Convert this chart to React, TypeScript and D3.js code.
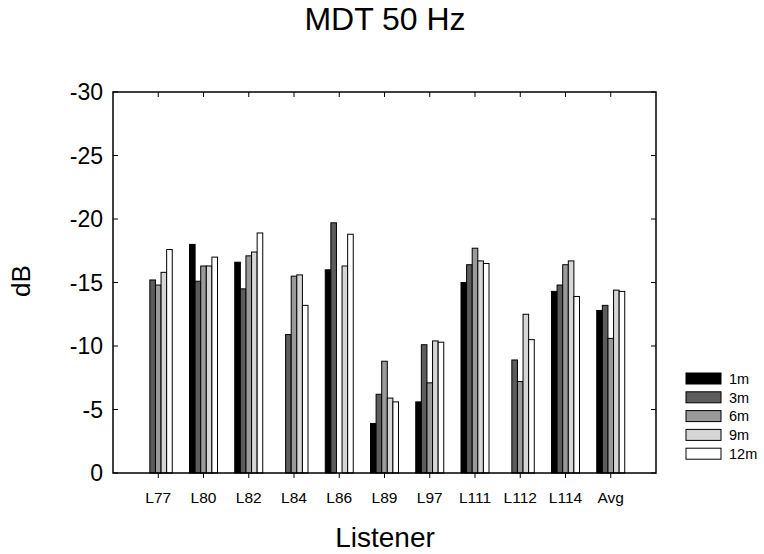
import React from 'react';
import * as d3 from 'd3';

// Data (dB values; null = no bar)
const categories = ['L77', 'L80', 'L82', 'L84', 'L86', 'L89', 'L97', 'L111', 'L112', 'L114', 'Avg'];
const m1 = [null, -18.0, -16.6, null, -16.0, -3.9, -5.6, -15.0, null, -14.3, -12.8];
const m3 = [-15.2, -15.1, -14.5, -10.9, -19.7, -6.2, -10.1, -16.4, -8.9, -14.8, -13.2];
const m6 = [-14.8, -16.3, -17.1, -15.5, null, -8.8, -7.1, -17.7, -7.2, -16.4, -10.6];
const m9 = [-15.8, -16.3, -17.4, -15.6, -16.3, -5.9, -10.4, -16.7, -12.5, -16.7, -14.4];
const m12 = [-17.6, -17.0, -18.9, -13.2, -18.8, -5.6, -10.3, -16.5, -10.5, -13.9, -14.3];
const seriesNames = ['1m', '3m', '6m', '9m', '12m'];
const yTicks = [0, -5, -10, -15, -20, -25, -30];

const seriesValues = [m1, m3, m6, m9, m12];
const colors = ['#000000', '#5c5c5c', '#9a9a9a', '#d6d6d6', '#ffffff'];
const font = 'Liberation Sans, Arial, Helvetica, sans-serif';

export default function App() {
    const width = 764;
    const height = 554;
    const left = 113, right = 656, top = 92, bottom = 473;

    // x: categories sit at 1..11 on a 0..12 axis
    const x = d3.scaleLinear().domain([0, 12]).range([left, right]);
    const y = d3.scaleLinear().domain([0, -30]).range([bottom, top]);
    const inner = d3.scaleBand().domain(seriesNames).range([-14, 14]).padding(0);

    return (
        <svg width={width} height={height} style={{ position: 'absolute', left: 0, top: 0, background: '#fff' }}
            fontFamily={font}>
            <rect x={0} y={0} width={width} height={height} fill='#fff' />

            {/* bars */}
            {seriesValues.map((vals, s) => (
                <g key={seriesNames[s]}>
                    {vals.map((v, i) => v === null ? null : (
                        <rect key={i}
                            x={x(i + 1) + (inner(seriesNames[s]) as number)}
                            y={y(v)}
                            width={inner.bandwidth()}
                            height={y(0) - y(v)}
                            fill={colors[s]}
                            stroke='#000'
                            strokeWidth={1} />
                    ))}
                </g>
            ))}

            {/* frame */}
            <rect x={left} y={top} width={right - left} height={bottom - top} fill='none' stroke='#000' strokeWidth={1.5} />

            {/* y ticks left/right (inward) and labels */}
            {yTicks.map(t => (
                <g key={t}>
                    <line x1={left} x2={left + 5} y1={y(t)} y2={y(t)} stroke='#000' strokeWidth={1} />
                    <line x1={right - 5} x2={right} y1={y(t)} y2={y(t)} stroke='#000' strokeWidth={1} />
                    <text x={left - 10} y={y(t)} dy='0.36em' textAnchor='end' fontSize={23}>{t}</text>
                </g>
            ))}

            {/* x ticks top (inward) and bottom (outward) */}
            {categories.map((c, i) => (
                <g key={c}>
                    <line x1={x(i + 1)} x2={x(i + 1)} y1={top} y2={top + 5} stroke='#000' strokeWidth={1} />
                    <line x1={x(i + 1)} x2={x(i + 1)} y1={bottom} y2={bottom + 5} stroke='#000' strokeWidth={1} />
                    <text x={x(i + 1)} y={503} textAnchor='middle' fontSize={15.5}>{c}</text>
                </g>
            ))}

            {/* titles */}
            <text x={385} y={30} textAnchor='middle' fontSize={32}>MDT 50 Hz</text>
            <text x={385} y={547} textAnchor='middle' fontSize={28}>Listener</text>
            <text transform='translate(30,281) rotate(-90)' textAnchor='middle' fontSize={26}>dB</text>

            {/* legend */}
            {seriesNames.map((n, s) => (
                <g key={n} transform={`translate(686, ${373 + s * 18.8})`}>
                    <rect x={0} y={0} width={35} height={11} fill={colors[s]} stroke='#000' strokeWidth={1} />
                    <text x={43} y={5.5} dy='0.36em' fontSize={14.5}>{n}</text>
                </g>
            ))}
        </svg>
    );
}
